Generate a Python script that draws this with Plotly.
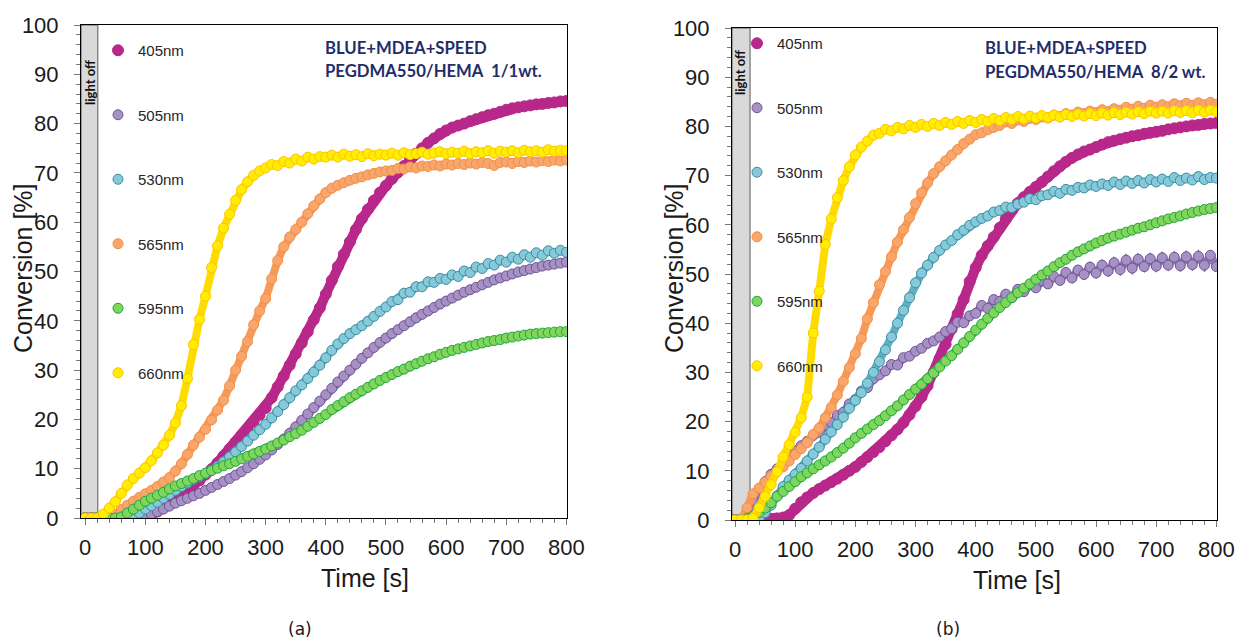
import plotly.graph_objects as go

# ---------------- data ----------------
TIME_S = [0, 10, 20, 30, 40, 50, 60, 70, 80, 90,
          100, 110, 120, 130, 140, 150, 160, 170, 180, 190,
          200, 210, 220, 230, 240, 250, 260, 270, 280, 290,
          300, 310, 320, 330, 340, 350, 360, 370, 380, 390,
          400, 410, 420, 430, 440, 450, 460, 470, 480, 490,
          500, 510, 520, 530, 540, 550, 560, 570, 580, 590,
          600, 610, 620, 630, 640, 650, 660, 670, 680, 690,
          700, 710, 720, 730, 740, 750, 760, 770, 780, 790,
          800]

SERIES_NAMES = ["405nm", "505nm", "530nm", "565nm", "595nm", "660nm"]

# Panel (a): PEGDMA550/HEMA 1/1 wt.
A_405 = [0, 0, 0, 0, 0, 0, 0, 0, 0, 0.1,
         0.3, 0.7, 1.3, 2.0, 2.8, 3.6, 4.5, 5.5, 6.5, 7.6,
         8.8, 9.9, 11.2, 12.6, 14.0, 15.4, 16.8, 18.1, 19.5, 20.9,
         22.3, 24.4, 26.6, 28.8, 31.0, 33.3, 35.5, 37.8, 40.2, 42.6,
         45.4, 48.2, 51.0, 53.5, 56.0, 58.5, 60.7, 62.6, 64.4, 66.0,
         67.4, 68.8, 70.1, 71.4, 72.7, 73.9, 75.0, 76.1, 77.0, 77.9,
         78.6, 79.2, 79.6, 80.0, 80.5, 80.9, 81.3, 81.7, 82.0, 82.4,
         82.8, 83.1, 83.3, 83.5, 83.7, 83.9, 84.0, 84.2, 84.3, 84.5,
         84.6]
A_505 = [0, 0, 0, 0, 0, 0, 0, 0, 0, 0,
         0.3, 0.8, 1.3, 1.8, 2.4, 3.0, 3.5, 4.0, 4.5, 5.0,
         5.6, 6.2, 6.8, 7.4, 8.0, 8.7, 9.4, 10.2, 11.0, 11.9,
         12.8, 13.8, 14.9, 16.0, 17.2, 18.5, 19.8, 21.1, 22.4, 23.7,
         25.0, 26.3, 27.6, 28.8, 30.0, 31.2, 32.4, 33.5, 34.6, 35.6,
         36.5, 37.4, 38.2, 39.0, 39.8, 40.6, 41.3, 42.0, 42.7, 43.4,
         44.0, 44.6, 45.2, 45.8, 46.3, 46.8, 47.3, 47.8, 48.3, 48.7,
         49.1, 49.5, 49.9, 50.2, 50.5, 50.8, 51.1, 51.3, 51.5, 51.7,
         51.9]
A_530 = [0, 0, 0, 0, 0, 0, 0, 0, 0.3, 1.0,
         1.8, 2.5, 3.2, 4.0, 4.8, 5.6, 6.4, 7.1, 7.8, 8.4,
         9.0, 9.7, 10.5, 11.4, 12.4, 13.4, 14.5, 15.6, 16.8, 17.9,
         19.0, 20.3, 21.6, 23.0, 24.4, 25.8, 27.0, 28.3, 29.6, 31.0,
         32.5, 34.0, 35.3, 36.4, 37.4, 38.2, 39.0, 39.9, 40.9, 41.9,
         42.8, 43.9, 44.3, 45.6, 45.8, 46.9, 46.9, 47.9, 47.8, 48.6,
         48.4, 49.3, 49.0, 50.1, 49.8, 50.9, 50.6, 51.6, 51.3, 52.3,
         51.9, 52.9, 52.5, 53.4, 52.9, 53.8, 53.3, 54.2, 53.7, 54.3,
         53.9]
A_565 = [0, 0, 0, 0, 0, 0.7, 1.7, 2.6, 3.4, 4.2,
         4.9, 5.6, 6.4, 7.3, 8.2, 9.5, 11.0, 12.9, 14.8, 16.4,
         18.0, 19.9, 21.9, 23.9, 26.8, 30.0, 32.8, 35.8, 39.2, 42.0,
         44.5, 48.5, 52.2, 55.0, 57.0, 58.5, 60.0, 61.7, 63.3, 64.7,
         66.0, 66.9, 67.5, 68.0, 68.5, 68.9, 69.2, 69.6, 69.9, 70.2,
         70.4, 70.5, 70.9, 70.8, 71.2, 71.0, 71.4, 71.3, 71.6, 71.4,
         71.8, 71.6, 71.9, 71.7, 72.0, 71.8, 72.1, 71.9, 71.5, 72.1,
         72.2, 71.9, 72.3, 72.1, 72.4, 72.2, 72.5, 72.3, 72.6, 72.4,
         72.6]
A_595 = [0, 0, 0, 0, 0, 0, 0.2, 1.0, 1.8, 2.6,
         3.4, 4.0, 4.6, 5.2, 5.9, 6.5, 7.0, 7.5, 8.0, 8.6,
         9.1, 9.6, 10.1, 10.6, 11.0, 11.5, 12.0, 12.5, 13.0, 13.5,
         14.0, 14.6, 15.2, 15.8, 16.5, 17.1, 17.8, 18.6, 19.4, 20.2,
         21.0, 22.0, 22.8, 23.6, 24.4, 25.1, 25.8, 26.5, 27.2, 27.9,
         28.5, 29.1, 29.7, 30.2, 30.8, 31.3, 31.8, 32.3, 32.7, 33.2,
         33.6, 34.0, 34.3, 34.6, 34.9, 35.2, 35.5, 35.8, 36.0, 36.2,
         36.5, 36.7, 36.9, 37.1, 37.3, 37.4, 37.5, 37.6, 37.7, 37.8,
         37.8]
A_660 = [0, 0, 0, 0.8, 2.0, 3.3, 5.0, 6.7, 8.0, 9.1,
         10.2, 11.6, 13.2, 14.8, 16.8, 19.3, 22.8, 28.3, 35.2, 40.3,
         45.0, 50.8, 55.2, 58.8, 61.6, 64.4, 66.6, 68.2, 69.5, 70.4,
         71.0, 71.7, 71.5, 72.3, 72.0, 72.8, 72.4, 73.2, 72.8, 73.3,
         73.2, 73.6, 73.2, 73.8, 73.4, 73.7, 73.3, 73.9, 73.5, 73.8,
         73.6, 74.0, 73.6, 74.1, 73.7, 73.9, 74.2, 73.8, 74.0, 74.3,
         73.9, 74.2, 74.0, 74.4, 73.9, 74.3, 74.1, 74.5, 74.0, 74.4,
         74.2, 74.5, 74.1, 74.6, 74.3, 74.5, 74.2, 74.7, 74.4, 74.6,
         74.5]

# Panel (b): PEGDMA550/HEMA 8/2 wt.
B_405 = [0, 0, 0, 0, 0, 0, 0.1, 0.3, 0.5, 1.0,
         2.3, 3.6, 4.6, 5.5, 6.3, 7.0, 7.7, 8.4, 9.2, 10.0,
         10.8, 11.8, 12.8, 13.8, 14.8, 16.0, 17.2, 18.4, 19.8, 21.4,
         23.1, 25.0, 27.3, 30.0, 32.8, 35.7, 38.8, 41.9, 44.8, 48.5,
         51.3, 53.8, 55.7, 57.5, 59.4, 61.2, 62.9, 64.4, 65.6, 66.7,
         67.7, 68.7, 69.8, 70.9, 71.9, 72.8, 73.6, 74.3, 74.9, 75.3,
         75.8, 76.3, 76.8, 77.1, 77.4, 77.7, 78.0, 78.2, 78.5, 78.7,
         78.9, 79.1, 79.4, 79.6, 79.8, 80.0, 80.2, 80.3, 80.5, 80.6,
         80.7]
B_505 = [0, 0, 1.0, 4.0, 6.2, 7.8, 9.3, 10.4, 11.8, 13.0,
         14.0, 15.1, 16.0, 17.2, 17.8, 19.3, 19.8, 21.3, 21.9, 23.6,
         24.5, 26.2, 26.9, 28.7, 29.5, 30.3, 31.6, 31.5, 33.0, 33.3,
         34.3, 34.9, 35.9, 36.4, 37.2, 38.3, 38.9, 40.2, 40.1, 41.5,
         42.0, 43.6, 43.0, 44.8, 44.4, 45.9, 45.2, 46.9, 46.4, 47.8,
         47.2, 48.6, 48.0, 49.5, 48.7, 50.3, 49.2, 50.8, 49.9, 51.4,
         50.2, 51.8, 50.6, 52.3, 50.9, 52.8, 51.2, 53.0, 51.5, 53.1,
         51.6, 53.3, 51.8, 53.4, 51.7, 53.5, 51.9, 53.6, 51.8, 53.8,
         51.5]
B_530 = [0, 0, 0, 0, 0.2, 1.5, 3.0, 4.9, 6.8, 8.1,
         9.3, 10.5, 12.0, 13.4, 14.8, 16.4, 17.9, 19.4, 20.9, 22.7,
         24.3, 25.9, 27.8, 30.0, 32.2, 34.6, 37.2, 40.0, 42.6, 45.2,
         48.2, 50.2, 51.8, 53.4, 54.8, 55.9, 56.8, 58.0, 58.9, 59.9,
         60.6, 61.3, 61.8, 62.6, 62.9, 63.6, 63.5, 64.2, 64.6, 65.3,
         65.1, 65.9, 66.1, 66.8, 66.4, 67.2, 67.0, 67.6, 67.5, 68.1,
         67.8, 68.3, 68.0, 68.7, 68.2, 68.9, 68.4, 69.0, 68.5, 69.2,
         68.7, 69.3, 68.8, 69.6, 69.0, 69.5, 69.1, 69.8, 69.2, 69.6,
         69.5]
B_565 = [0, 0, 2.5, 5.3, 6.5, 7.7, 8.9, 9.9, 10.8, 12.0,
         13.3, 14.5, 15.7, 17.4, 18.7, 20.8, 22.9, 25.4, 28.2, 31.0,
         33.8, 36.9, 40.9, 44.2, 47.8, 50.5, 53.5, 56.5, 59.0, 61.5,
         64.3, 66.5, 68.5, 70.4, 71.8, 73.0, 74.2, 75.3, 76.5, 77.4,
         78.3, 78.7, 79.3, 79.8, 80.2, 80.9, 80.6, 81.3, 81.0, 81.6,
         81.4, 81.9, 81.7, 82.3, 82.0, 82.6, 82.3, 82.9, 82.6, 83.1,
         82.8, 83.4, 83.0, 83.6, 83.3, 83.9, 83.5, 84.1, 83.7, 84.3,
         83.9, 84.4, 84.0, 84.6, 84.2, 84.7, 84.3, 84.8, 84.4, 84.9,
         84.5]
B_595 = [0, 0, 0.3, 0.8, 1.5, 2.4, 3.5, 4.8, 5.8, 6.8,
         7.8, 8.8, 9.6, 10.4, 11.2, 12.0, 12.8, 13.7, 14.6, 15.6,
         16.7, 17.6, 18.5, 19.4, 20.2, 21.2, 22.2, 23.2, 24.4, 25.5,
         26.6, 27.6, 28.7, 29.9, 31.1, 32.3, 33.4, 34.7, 36.0, 37.3,
         38.6, 39.8, 41.0, 42.1, 43.2, 44.2, 45.2, 46.2, 47.1, 48.0,
         48.9, 49.8, 50.6, 51.5, 52.3, 53.0, 53.8, 54.5, 55.1, 55.7,
         56.3, 56.8, 57.3, 57.7, 58.1, 58.5, 58.9, 59.3, 59.6, 60.0,
         60.4, 60.8, 61.2, 61.5, 61.8, 62.2, 62.5, 62.8, 63.1, 63.3,
         63.5]
B_660 = [0, 0, 0, 0.3, 2.5, 4.8, 7.2, 9.8, 12.8, 15.3,
         17.8, 20.8, 25.0, 38.0, 46.5, 56.0, 61.2, 65.5, 69.0, 71.8,
         74.2, 75.8, 77.0, 78.2, 78.6, 79.4, 79.1, 79.8, 79.5, 80.2,
         79.8, 80.4, 80.0, 80.6, 80.2, 80.8, 80.4, 81.0, 80.6, 81.2,
         80.8, 81.4, 81.0, 81.6, 81.2, 81.8, 81.4, 82.0, 81.5, 82.1,
         81.7, 82.2, 81.8, 82.3, 81.9, 82.4, 82.0, 82.5, 82.1, 82.6,
         82.2, 82.7, 82.3, 82.8, 82.4, 82.9, 82.5, 83.0, 82.6, 83.1,
         82.7, 83.1, 82.7, 83.2, 82.8, 83.2, 82.8, 83.3, 82.9, 83.3,
         83.0]

PANEL_A = [A_405, A_505, A_530, A_565, A_595, A_660]
PANEL_B = [B_405, B_505, B_530, B_565, B_595, B_660]

FILL_COLORS = ["#B8288A", "#A790C4", "#86C9D9", "#F9A66C", "#80D65C", "#FFEE00"]
EDGE_COLORS = ["#B8288A", "#6E5597", "#3A8DA2", "#F28E45", "#1EA53D", "#FFC000"]
BAND_COLORS = ["#B8288A", "#8F77B0", "#62AFC2", "#F69A5A", "#55C04C", "#FFDC00"]

W, H = 1237, 641


def px_x(p):
    return p / W


def px_y(p):
    return 1 - p / H


fig = go.Figure()

panels = [
    ("x", "y", "legend", PANEL_A),
    ("x2", "y2", "legend2", PANEL_B),
]
for xa, ya, leg, values in panels:
    for name, fill, edge, band, vals in zip(SERIES_NAMES, FILL_COLORS, EDGE_COLORS,
                                            BAND_COLORS, values):
        is_magenta = name == "405nm"
        fig.add_trace(go.Scatter(
            x=TIME_S, y=vals, mode="lines", xaxis=xa, yaxis=ya,
            line=dict(color=band, width=10 if is_magenta else 8),
            showlegend=False, hoverinfo="skip"))
        fig.add_trace(go.Scatter(
            x=TIME_S, y=vals, mode="markers", name=name, xaxis=xa, yaxis=ya,
            legend=leg, legendgroup=leg + name,
            marker=dict(size=11 if is_magenta else 10, color=fill,
                        line=dict(color=edge, width=1))))

tick_font = dict(family="Liberation Sans, Arial, sans-serif", size=22, color="#1a1a1a")


def xaxis_cfg(domain, rng):
    return dict(domain=domain, range=rng, showline=True, linecolor="#000000", linewidth=1,
                mirror=True, ticks="outside", ticklen=6, tickcolor="#777777",
                tickvals=[0, 100, 200, 300, 400, 500, 600, 700, 800],
                tickfont=tick_font, showgrid=False, zeroline=False, automargin=False,
                ticklabelstandoff=4,
                minor=dict(ticks="outside", ticklen=4, tickcolor="#777777", dtick=20, tick0=0))


def yaxis_cfg(domain, anchor):
    return dict(domain=domain, range=[0, 100], anchor=anchor, showline=True, linecolor="#000000",
                linewidth=1, mirror=True, ticks="outside", ticklen=6, tickcolor="#777777",
                tickvals=[0, 10, 20, 30, 40, 50, 60, 70, 80, 90, 100],
                tickfont=tick_font, showgrid=False, zeroline=False, automargin=False,
                ticklabelstandoff=11,
                minor=dict(ticks="outside", ticklen=4, tickcolor="#777777", dtick=2, tick0=0))


legend_font = dict(family="Liberation Sans, Arial, sans-serif", size=15, color="#262626")

fig.update_layout(
    width=W, height=H,
    margin=dict(l=0, r=0, t=0, b=0),
    paper_bgcolor="white", plot_bgcolor="white",
    hovermode=False,
    xaxis=dict(**xaxis_cfg([px_x(81), px_x(567)], [-7, 801]), anchor="y"),
    yaxis=yaxis_cfg([px_y(518), px_y(25)], "x"),
    xaxis2=dict(**xaxis_cfg([px_x(732), px_x(1217)], [-5, 801]), anchor="y2"),
    yaxis2=yaxis_cfg([px_y(520), px_y(28)], "x2"),
    legend=dict(x=px_x(98), y=px_y(34), xanchor="left", yanchor="top",
                bgcolor="rgba(0,0,0,0)", font=legend_font, tracegroupgap=42),
    legend2=dict(x=px_x(737), y=px_y(27), xanchor="left", yanchor="top",
                 bgcolor="rgba(0,0,0,0)", font=legend_font, tracegroupgap=42),
)

# "light off" boxes
fig.add_shape(type="rect", xref="x", yref="y", x0=-7, x1=21, y0=0, y1=100,
              fillcolor="#D9D9D9", line=dict(color="#595959", width=1), layer="below")
fig.add_shape(type="rect", xref="x2", yref="y2", x0=-5, x1=25, y0=0, y1=100,
              fillcolor="#D9D9D9", line=dict(color="#595959", width=1), layer="below")

ann_font_title = dict(family="Lato, Open Sans, sans-serif", size=16.7, color="#1F2D6B")
axis_title_font = dict(family="Liberation Sans, Arial, sans-serif", size=25, color="#1a1a1a")
annotations = [
    dict(text="<b>light off</b>", x=px_x(90), y=px_y(83), textangle=-90,
         font=dict(family="Lato, sans-serif", size=13, color="#111111")),
    dict(text="<b>light off</b>", x=px_x(740), y=px_y(73), textangle=-90,
         font=dict(family="Lato, sans-serif", size=13, color="#111111")),
    dict(text="<b>BLUE+MDEA+SPEED</b>", x=px_x(323), y=px_y(48), xanchor="left",
         font=ann_font_title),
    dict(text="<b>PEGDMA550/HEMA  1/1wt.</b>", x=px_x(323), y=px_y(71), xanchor="left",
         font=ann_font_title),
    dict(text="<b>BLUE+MDEA+SPEED</b>", x=px_x(983), y=px_y(48), xanchor="left",
         font=ann_font_title),
    dict(text="<b>PEGDMA550/HEMA  8/2 wt.</b>", x=px_x(983), y=px_y(72), xanchor="left",
         font=ann_font_title),
    dict(text="Conversion [%]", x=px_x(23), y=px_y(268), textangle=-90, font=axis_title_font),
    dict(text="Conversion [%]", x=px_x(674), y=px_y(268), textangle=-90, font=axis_title_font),
    dict(text="Time [s]", x=px_x(365), y=px_y(578), font=axis_title_font),
    dict(text="Time [s]", x=px_x(1017), y=px_y(580), font=axis_title_font),
    dict(text="(a)", x=px_x(300), y=px_y(629),
         font=dict(family="DejaVu Sans, sans-serif", size=17, color="#1a1a1a")),
    dict(text="(b)", x=px_x(948), y=px_y(629),
         font=dict(family="DejaVu Sans, sans-serif", size=17, color="#1a1a1a")),
]
for a in annotations:
    a.setdefault("xanchor", "center")
    a.update(xref="paper", yref="paper", yanchor="middle", showarrow=False)
    fig.add_annotation(**a)

fig.write_html("out.html", config={"displayModeBar": False},
               post_script="document.body.style.margin='0px';")
